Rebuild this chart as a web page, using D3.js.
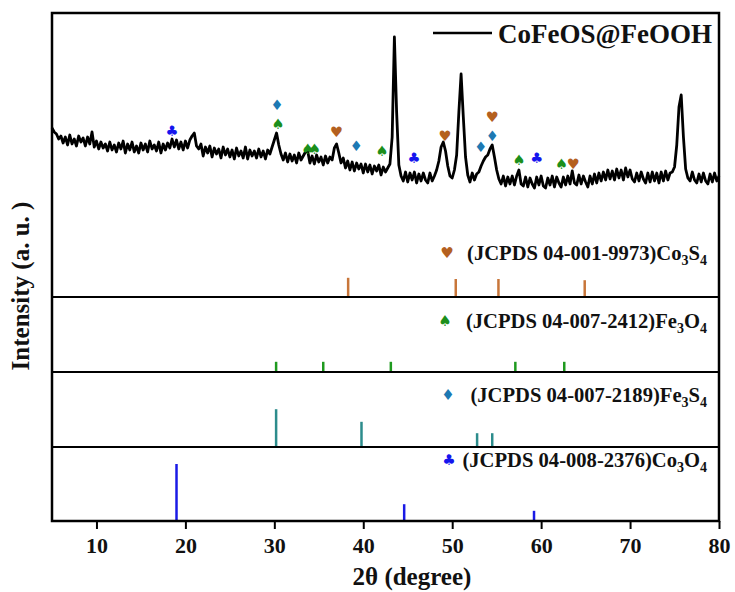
<!DOCTYPE html>
<html><head><meta charset="utf-8">
<script src="https://cdn.jsdelivr.net/npm/d3@7"></script>
<style>body{margin:0;background:#fff}svg{display:block}</style>
</head><body>
<svg id="chart" width="735" height="592"></svg>
<script>
// ---------- data ----------
const xTicks = [10, 20, 30, 40, 50, 60, 70, 80];
const seriesName = "CoFeOS@FeOOH";
// measured pattern, 2θ from 5° to 80° in 0.25° steps
const xrdIntensity = [
169,165,163,158, 161,154,160,152, 162,153,158,151, 161,155,159,151, 160,153,165,150, // 5-9
156,148,155,149, 153,146,155,147, 152,145,154,148, 156,144,153,147, 155,145,151,144, // 10-14
154,147,153,145, 156,148,152,146, 155,144,153,147, 154,149,158,150, 157,148,155,147, // 15-19
156,149,157,161, 164,151,148,153, 141,150,144,151, 140,149,143,148, 139,150,142,148, // 20-24
140,147,138,149, 141,146,139,150, 138,147,141,146, 139,148,140,146, 138,147,143,150, // 25-29
157,164,152,143, 137,144,135,143, 136,142,134,144, 137,141,145,146, 134,141,133,142, // 30-34
135,140,132,141, 134,140,137,149, 153,144,134,139, 129,136,127,135, 126,134,128,133, // 35-39
124,133,125,132, 123,131,126,132, 122,130,125,129, 133,160,260,185, 132,121,116,125, // 40-44
115,124,117,125, 114,123,116,124, 117,114,124,116, 121,127,136,150, 155,146,131,121, // 45-49
119,127,142,185, 223,180,140,122, 115,124,117,123, 125,131,136,140, 142,148,152,140, // 50-54
127,118,113,121, 111,120,113,121, 112,121,127,113, 111,120,110,119, 113,109,120,112, // 55-59
121,111,109,119, 112,121,110,120, 114,110,120,112, 121,113,126,114, 112,122,113,121, // 60-64
115,110,121,113, 123,114,124,116, 125,117,127,118, 126,117,128,119, 127,117,129,120, // 65-69
127,118,115,124, 116,125,118,114, 124,115,125,116, 124,114,125,116, 126,117,124,125, // 70-74
130,152,190,202, 160,128,119,116, 125,117,114,123, 115,124,116,113, 123,115,124,116, // 75-79
121 // 80
];
const xrdAngle = d3.range(xrdIntensity.length).map(i => 5 + i * 0.25);

// peak markers on the measured curve: symbol, 2θ, height level
const markSymbol = ["club","diamond","spade","spade2","heart","diamond","spade","club","heart","diamond","diamond","heart","spade","club","spade","heart"];
const markAngle  = [18.5, 30.3, 30.4, 33.8, 37.0, 39.2, 42.1, 45.7, 49.2, 53.2, 54.5, 54.5, 57.5, 59.5, 62.3, 63.6];
const markLevel  = [166, 192, 173, 148, 165, 151, 146, 139, 161, 150, 161, 180, 137, 139, 133, 133];

// reference patterns (relative intensity)
const co3s4Angle = [38.3, 50.4, 55.2, 64.9];
const co3s4Rel   = [32, 30, 30, 28];
const fe3o4Angle = [30.2, 35.5, 43.1, 57.1, 62.6];
const fe3o4Rel   = [17, 17, 17, 17, 17];
const fe3s4Angle = [30.2, 39.8, 52.8, 54.5];
const fe3s4Rel   = [63, 42, 23, 23];
const co3o4Angle = [19.0, 44.6, 59.2];
const co3o4Rel   = [95, 28, 17];

const refCodes = ["(JCPDS 04-001-9973)", "(JCPDS 04-007-2412)", "(JCPDS 04-007-2189)", "(JCPDS 04-008-2376)"];
const refFormula = [[["Co",""],["3","sub"],["S",""],["4","sub"]],
                    [["Fe",""],["3","sub"],["O",""],["4","sub"]],
                    [["Fe",""],["3","sub"],["S",""],["4","sub"]],
                    [["Co",""],["3","sub"],["O",""],["4","sub"]]];
const refSymbol = ["heart", "spade", "diamond", "club"];

// ---------- drawing ----------
const glyph = {heart: "\u2665", spade: "\u2660", spade2: "\u2660\u2660", diamond: "\u2666", club: "\u2663"};
const symColor = {heart: "#b4601f", spade: "#1b8f1b", spade2: "#1b8f1b", diamond: "#1d79b3", club: "#1515ee"};
const stickColor = ["#c8763a", "#1f9a1f", "#2c8c8c", "#1a1ae6"];
const serif = "'Liberation Serif','Times New Roman',serif";

const svg = d3.select("#chart");
const L = 52, R = 719, T = 13, B = 521;
const panelBottoms = [297, 372, 447, 521];

const x = d3.scaleLinear().domain([5, 80]).range([L, R]);
const yTop = d3.scaleLinear().domain([0, 284]).range([297, 13]);
const hStick = d3.scaleLinear().domain([0, 100]).range([0, 60]);

// curve
const line = d3.line().x((d, i) => x(xrdAngle[i])).y(d => yTop(d));
svg.append("path").datum(xrdIntensity)
  .attr("d", line).attr("fill", "none").attr("stroke", "#000")
  .attr("stroke-width", 2.8).attr("stroke-linejoin", "round");

// markers
svg.append("g").selectAll("text").data(markSymbol).join("text")
  .attr("x", (d, i) => x(markAngle[i]))
  .attr("y", (d, i) => yTop(markLevel[i]))
  .attr("dy", "0.35em")
  .attr("text-anchor", "middle")
  .attr("font-family", "'DejaVu Sans',sans-serif")
  .attr("font-size", 14.5)
  .attr("letter-spacing", d => d === "spade2" ? -6 : 0)
  .attr("fill", d => symColor[d])
  .text(d => glyph[d]);

// sticks
const refAngles = [co3s4Angle, fe3o4Angle, fe3s4Angle, co3o4Angle];
const refRels = [co3s4Rel, fe3o4Rel, fe3s4Rel, co3o4Rel];
refAngles.forEach((angles, k) => {
  const base = panelBottoms[k];
  svg.append("g").selectAll("line").data(angles).join("line")
    .attr("x1", d => x(d)).attr("x2", d => x(d))
    .attr("y1", base).attr("y2", (d, i) => base - hStick(refRels[k][i]))
    .attr("stroke", stickColor[k]).attr("stroke-width", 2.5);
});

// labels for references
const labelBase = [260, 328, 402, 467];
const labelSymX = [447, 445, 448, 449];
refCodes.forEach((code, k) => {
  svg.append("text").attr("x", labelSymX[k]).attr("y", labelBase[k] - 7)
    .attr("dy", "0.35em").attr("text-anchor", "middle")
    .attr("font-family", "'DejaVu Sans',sans-serif").attr("font-size", 15)
    .attr("fill", symColor[refSymbol[k]]).text(glyph[refSymbol[k]]);
  const t = svg.append("text").attr("x", 707).attr("y", labelBase[k])
    .attr("text-anchor", "end").attr("font-family", serif)
    .attr("font-weight", "bold").attr("font-size", 20.6).attr("fill", "#111");
  t.append("tspan").text(code);
  let shifted = false;
  refFormula[k].forEach(([s, type]) => {
    const ts = t.append("tspan").text(s);
    if (type === "sub" && !shifted) { ts.attr("dy", 5).attr("font-size", 14); shifted = true; }
    else if (type === "sub") { ts.attr("font-size", 14); }
    else if (shifted) { ts.attr("dy", -5); shifted = false; }
  });
});

// panel separators
panelBottoms.slice(0, 3).forEach(yb => {
  svg.append("line").attr("x1", L).attr("x2", R).attr("y1", yb).attr("y2", yb)
    .attr("stroke", "#000").attr("stroke-width", 2);
});

// frame
svg.append("rect").attr("x", L).attr("y", T).attr("width", R - L).attr("height", B - T)
  .attr("fill", "none").attr("stroke", "#000").attr("stroke-width", 2.5);

// x axis
const ax = svg.append("g").attr("transform", `translate(0,${B})`)
  .call(d3.axisBottom(x).tickValues(xTicks).tickSize(8).tickPadding(8).tickFormat(d3.format("d")));
ax.select(".domain").remove();
ax.selectAll("line").attr("stroke", "#000").attr("stroke-width", 2);
ax.selectAll("text").attr("font-family", serif).attr("font-weight", "bold")
  .attr("font-size", 22).attr("fill", "#111");

// axis titles
svg.append("text").attr("x", 412).attr("y", 585).attr("text-anchor", "middle")
  .attr("font-family", serif).attr("font-weight", "bold").attr("font-size", 25)
  .attr("fill", "#111").text("2\u03B8 (degree)");
svg.append("text").attr("transform", "translate(29,286) rotate(-90)")
  .attr("text-anchor", "middle").attr("font-family", serif).attr("font-weight", "bold")
  .attr("font-size", 25).attr("fill", "#111").text("Intensity (a. u. )");

// legend
svg.append("line").attr("x1", 433).attr("x2", 492).attr("y1", 33).attr("y2", 33)
  .attr("stroke", "#000").attr("stroke-width", 2.5);
svg.append("text").attr("x", 498).attr("y", 43).attr("font-family", serif)
  .attr("font-weight", "bold").attr("font-size", 27).attr("fill", "#111").text(seriesName);
</script>
</body></html>
